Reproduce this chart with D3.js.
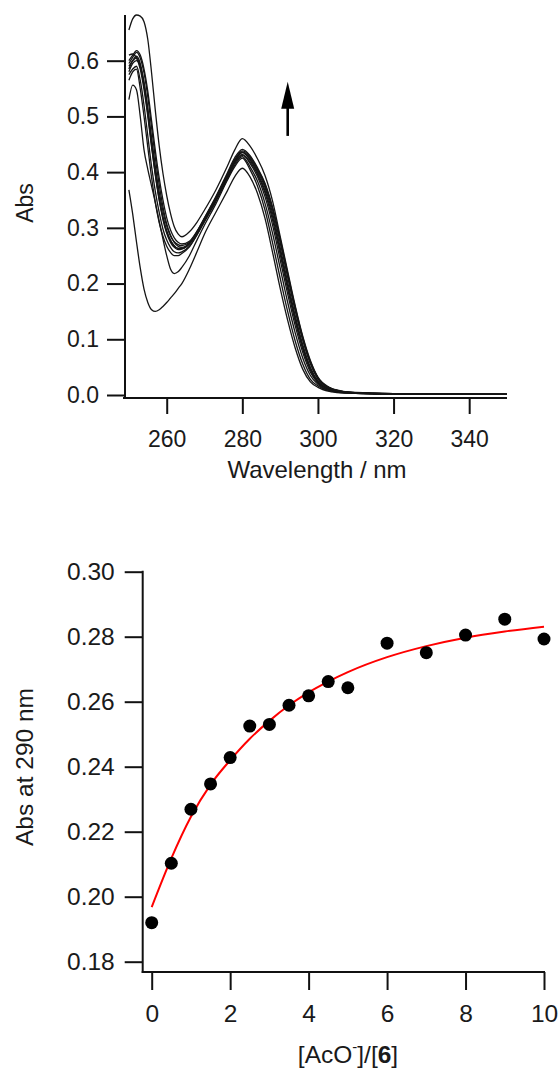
<!DOCTYPE html>
<html><head><meta charset="utf-8">
<script src="https://cdn.jsdelivr.net/npm/d3@7"></script>
<style>
body{margin:0;background:#fff}
svg{display:block;background:#fff}
</style>
</head><body>
<svg id="c" width="559" height="1068"></svg>
<script>
// ---------- top panel data: UV-vis spectra ----------
const wavelength = [250,251,252,253,254,255,256,257,258,259,260,261,262,263,264,266,268,270,273,276,278,280,282,284,286,288,290,292,294,296,298,300,303,306,310,320,335,350];
const spectrum0  = [.368,.325,.275,.228,.19,.166,.153,.15,.153,.159,.166,.174,.182,.191,.2,.226,.257,.289,.328,.366,.392,.407,.392,.362,.317,.256,.192,.134,.084,.046,.0235,.0138,.0066,.004,.003,.0018,.0013,.001];
const spectrum1  = [.53,.556,.548,.50,.44,.405,.375,.345,.312,.28,.25,.226,.218,.221,.229,.25,.278,.305,.343,.385,.41,.425,.405,.375,.332,.273,.21,.1495,.0965,.055,.028,.0163,.008,.0045,.003,.0018,.0013,.001];
const spectrum2  = [.575,.585,.59,.565,.52,.465,.41,.365,.328,.298,.278,.265,.257,.255,.257,.267,.287,.311,.347,.387,.413,.428,.41,.384,.344,.29,.228,.166,.111,.066,.035,.019,.008,.005,.003,.002,.0015,.001];
const spectrum3  = [.585,.60,.608,.595,.56,.51,.452,.40,.355,.32,.295,.278,.268,.263,.263,.272,.292,.316,.352,.392,.418,.432,.416,.392,.356,.305,.243,.181,.124,.076,.041,.0215,.0095,.005,.0035,.002,.0015,.001];
const spectrum4  = [.565,.58,.585,.55,.50,.445,.39,.345,.31,.285,.267,.256,.25,.25,.254,.266,.288,.313,.35,.39,.416,.43,.419,.396,.363,.314,.253,.19,.132,.082,.045,.023,.01,.0055,.0035,.002,.0015,.001];
const spectrum5  = [.595,.606,.615,.605,.578,.535,.48,.425,.378,.338,.307,.287,.274,.267,.265,.272,.291,.315,.352,.393,.42,.435,.422,.399,.367,.32,.259,.196,.137,.086,.047,.024,.0105,.0058,.0038,.002,.0015,.001];
const spectrum6  = [.59,.60,.605,.59,.555,.505,.448,.395,.35,.315,.29,.274,.265,.261,.262,.272,.292,.316,.352,.393,.42,.436,.424,.402,.372,.326,.265,.202,.142,.09,.05,.025,.011,.006,.004,.002,.0015,.001];
const spectrum7  = [.60,.61,.618,.61,.585,.545,.492,.438,.39,.35,.318,.296,.282,.274,.271,.276,.294,.318,.355,.396,.423,.438,.428,.405,.376,.333,.274,.2116,.151,.098,.056,.0286,.0123,.0065,.004,.0022,.0016,.0012];
const spectrum8  = [.58,.595,.60,.59,.56,.515,.462,.41,.365,.33,.303,.285,.275,.27,.268,.274,.293,.318,.356,.398,.426,.441,.43,.408,.38,.337,.2805,.218,.157,.103,.06,.031,.013,.007,.0042,.0023,.0017,.0012];
const spectrum9  = [.655,.675,.682,.68,.67,.638,.578,.51,.448,.398,.358,.326,.302,.289,.284,.293,.31,.332,.368,.41,.44,.46,.447,.424,.394,.348,.285,.222,.16,.105,.062,.032,.014,.0075,.0045,.0025,.0018,.0013];
const spectrum10 = [.61,.612,.605,.585,.548,.50,.445,.395,.352,.318,.293,.277,.267,.263,.263,.271,.291,.315,.352,.394,.421,.436,.4265,.406,.378,.335,.277,.215,.154,.1005,.058,.030,.0127,.0068,.004,.0022,.0016,.0012];
const spectra = [spectrum0,spectrum1,spectrum2,spectrum3,spectrum4,spectrum5,spectrum6,spectrum7,spectrum8,spectrum9,spectrum10];
const wlTicks  = [260,280,300,320,340];
const absTicks = [0,0.1,0.2,0.3,0.4,0.5,0.6];
const arrowAt  = {wl: 292, from: 0.465, to: 0.562};

// ---------- bottom panel data: titration ----------
const ratio    = [0,0.5,1,1.5,2,2.5,3,3.5,4,4.5,5,6,7,8,9,10];
const abs290   = [.192,.2103,.2269,.2347,.2428,.2525,.2530,.2589,.2618,.2662,.2643,.2780,.2751,.2805,.2854,.2793];
const fitRatio = [0,0.5,1,1.5,2,2.5,3,3.5,4,4.5,5,6,7,8,9,10];
const fitAbs   = [.1968,.2118,.2246,.2345,.2420,.2486,.2541,.2589,.2629,.2662,.2691,.2737,.2771,.2797,.2816,.2831];
const ratioTicks = [0,2,4,6,8,10];
const abs290Ticks = [0.18,0.20,0.22,0.24,0.26,0.28,0.30];

const FONT = '"Liberation Sans", Arial, Helvetica, sans-serif';
const INK = "#111";
const svg = d3.select("#c");

function styleAxis(g, size){
  g.attr("font-family", FONT).attr("font-size", size);
  g.select(".domain").remove();
  g.selectAll(".tick line").attr("stroke", INK).attr("stroke-width", 2);
  g.selectAll(".tick text").attr("fill", "#1a1a1a");
}

// ================= TOP PANEL =================
const x1 = d3.scaleLinear().domain([250,350]).range([128.9,507]);
const y1 = d3.scaleLinear().domain([0,0.682]).range([395,15]);
const topG = svg.append("g");

const specLine = d3.line()
  .x((d,i)=>x1(wavelength[i]))
  .y(d=>y1(d))
  .curve(d3.curveMonotoneX);

topG.selectAll("path.spec").data(spectra).join("path")
  .attr("class","spec")
  .attr("d", specLine)
  .attr("fill","none")
  .attr("stroke","#151515")
  .attr("stroke-width",1.3);

const yAx1 = topG.append("g").attr("transform","translate(125,0)")
  .call(d3.axisLeft(y1).tickValues(absTicks).tickFormat(d3.format(".1f")).tickSize(18).tickPadding(8));
styleAxis(yAx1, 23);
const xAx1 = topG.append("g").attr("transform","translate(0,398)")
  .call(d3.axisBottom(x1).tickValues(wlTicks).tickFormat(d3.format("d")).tickSize(16).tickPadding(17));
styleAxis(xAx1, 23);

topG.append("line").attr("x1",125).attr("x2",125).attr("y1",15).attr("y2",399)
  .attr("stroke",INK).attr("stroke-width",2);
topG.append("line").attr("x1",123).attr("x2",507).attr("y1",398).attr("y2",398)
  .attr("stroke",INK).attr("stroke-width",2);

topG.append("text").attr("transform","translate(33,203) rotate(-90)")
  .attr("text-anchor","middle").attr("font-family",FONT).attr("font-size",23).attr("fill","#1a1a1a")
  .text("Abs");
topG.append("text").attr("x",317).attr("y",478)
  .attr("text-anchor","middle").attr("font-family",FONT).attr("font-size",24).attr("fill","#1a1a1a")
  .text("Wavelength / nm");

// arrow
const ax = x1(arrowAt.wl), ayTip = y1(arrowAt.to), ayBase = y1(arrowAt.from);
topG.append("line").attr("x1",ax).attr("x2",ax).attr("y1",ayBase).attr("y2",ayTip+20)
  .attr("stroke","#000").attr("stroke-width",2.6);
topG.append("path")
  .attr("d",`M${ax},${ayTip} L${ax-6.5},${ayTip+27} L${ax+6.5},${ayTip+27} Z`)
  .attr("fill","#000");

// ================= BOTTOM PANEL =================
const x2 = d3.scaleLinear().domain([0,10]).range([151.7,544]);
const y2 = d3.scaleLinear().domain([0.18,0.30]).range([961.7,571.7]);
const botG = svg.append("g");

const yAx2 = botG.append("g").attr("transform","translate(142.7,0)")
  .call(d3.axisLeft(y2).tickValues(abs290Ticks).tickFormat(d3.format(".2f")).tickSize(18).tickPadding(10));
styleAxis(yAx2, 24.5);
const xAx2 = botG.append("g").attr("transform","translate(0,972)")
  .call(d3.axisBottom(x2).tickValues(ratioTicks).tickFormat(d3.format("d")).tickSize(18).tickPadding(15));
styleAxis(xAx2, 24.5);

botG.append("line").attr("x1",142.7).attr("x2",142.7).attr("y1",570.7).attr("y2",973)
  .attr("stroke",INK).attr("stroke-width",2);
botG.append("line").attr("x1",141.7).attr("x2",545).attr("y1",972).attr("y2",972)
  .attr("stroke",INK).attr("stroke-width",2);

const fitLine = d3.line().x((d,i)=>x2(fitRatio[i])).y(d=>y2(d)).curve(d3.curveMonotoneX);
botG.append("path").datum(fitAbs).attr("d",fitLine)
  .attr("fill","none").attr("stroke","#ff0000").attr("stroke-width",2);

botG.selectAll("circle.pt").data(abs290).join("circle")
  .attr("class","pt")
  .attr("cx",(d,i)=>x2(ratio[i])).attr("cy",d=>y2(d)).attr("r",6.5).attr("fill","#000");

botG.append("text").attr("transform","translate(33,767) rotate(-90)")
  .attr("text-anchor","middle").attr("font-family",FONT).attr("font-size",24.5).attr("fill","#1a1a1a")
  .text("Abs at 290 nm");

const xl = botG.append("text").attr("x",348).attr("y",1063)
  .attr("text-anchor","middle").attr("font-family",FONT).attr("font-size",24.5).attr("fill","#1a1a1a");
xl.append("tspan").text("[AcO");
xl.append("tspan").attr("dy",-11).attr("font-size",15).text("-");
xl.append("tspan").attr("dy",11).text("]/[");
xl.append("tspan").attr("font-weight","bold").text("6");
xl.append("tspan").text("]");
</script>
</body></html>
